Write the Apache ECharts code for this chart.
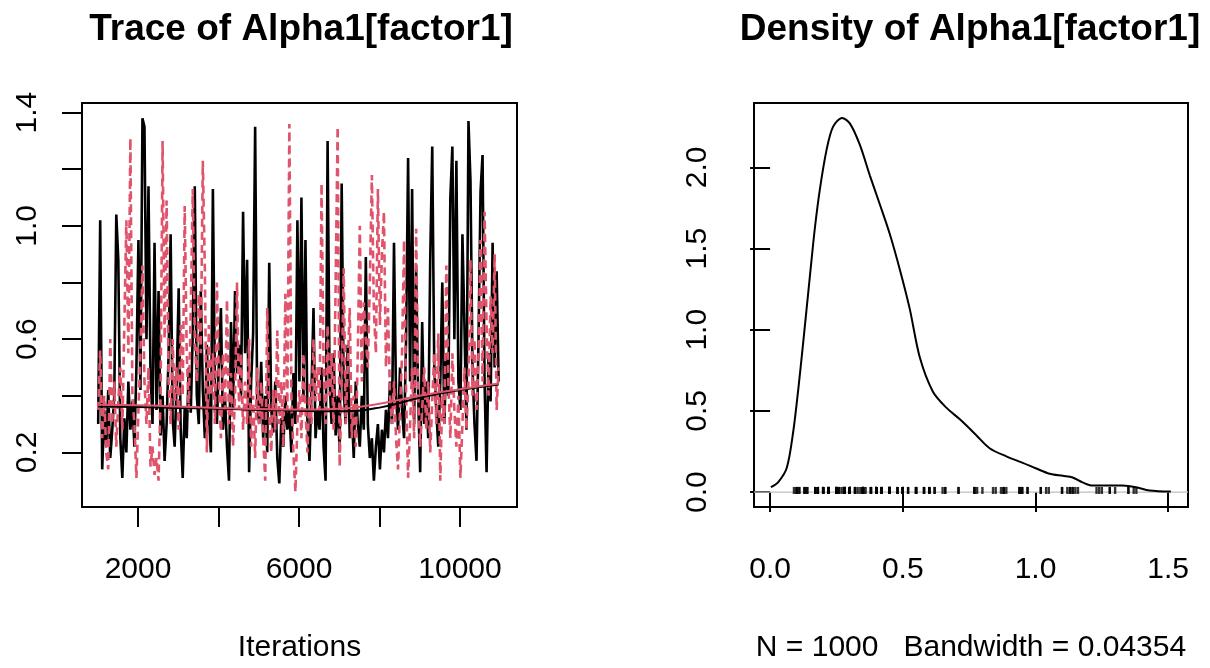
<!DOCTYPE html>
<html>
<head>
<meta charset="utf-8">
<script src="https://cdn.jsdelivr.net/npm/echarts@6/dist/echarts.min.js"></script>
<style>
html,body{margin:0;padding:0;background:#fff;}
#chart{width:1210px;height:668px;}
</style>
</head>
<body>
<div id="chart"></div>
<script>
// ---- data ----
const iterStart = 1010;
const iterStep = 50;

// chain 1 (black, solid)
const chain1 = [
0.30,1.02,0.14,0.35,0.22,0.42,0.18,0.28,0.40,1.04,
0.88,0.25,0.11,0.32,0.20,0.45,0.28,0.38,0.22,0.50,
0.95,0.42,1.38,1.35,0.60,1.14,0.48,0.30,0.94,0.35,
0.77,0.26,0.40,0.17,0.30,0.55,0.97,0.32,0.22,0.45,
0.78,0.28,0.11,0.36,0.25,0.50,0.34,0.62,1.14,0.40,
0.30,0.77,0.42,0.25,0.58,0.33,0.20,1.13,0.45,0.30,
0.52,0.71,0.28,0.40,0.22,0.10,0.66,0.35,0.77,0.48,
0.58,0.40,1.05,0.55,0.88,0.13,0.45,0.62,1.35,0.38,
0.30,0.52,0.25,0.40,0.20,0.87,0.35,0.27,0.45,0.18,
0.09,0.32,0.22,0.40,0.28,0.35,0.20,0.48,0.30,1.02,
0.45,1.10,0.38,0.95,0.30,0.17,0.42,0.71,0.25,0.35,
0.28,0.50,0.22,0.10,1.30,0.45,0.30,0.55,0.26,0.40,
0.20,1.15,0.42,0.30,0.58,0.25,0.35,0.18,0.45,0.30,
0.22,0.40,0.28,0.89,0.30,0.18,0.25,0.10,0.22,0.30,
0.14,0.28,0.20,0.35,0.25,0.45,0.30,0.94,0.40,0.28,
0.50,0.35,0.25,0.60,1.24,0.45,1.13,0.30,0.85,0.40,
0.13,0.66,0.30,0.45,0.25,0.88,1.28,0.50,0.35,0.22,
0.45,0.80,0.30,0.55,0.40,1.10,1.28,0.60,1.23,0.45,
0.35,0.97,0.65,0.28,1.37,1.16,0.50,0.30,0.17,0.60,
1.12,1.25,0.45,0.13,0.55,0.38,0.94,0.50,0.84,0.45
];

// chain 2 (red, dashed)
const chain2 = [
0.35,0.56,0.25,0.40,0.20,0.14,0.60,0.30,0.45,0.22,
0.38,0.50,0.28,0.65,1.02,0.55,1.31,0.40,0.30,0.11,
0.35,0.55,0.86,0.45,0.30,0.50,0.15,0.22,0.12,0.18,
0.10,0.40,1.30,0.60,1.09,0.45,0.30,0.60,0.38,0.50,
0.28,0.65,0.40,1.07,0.55,0.35,0.70,1.13,0.60,0.45,
0.76,0.55,1.23,0.85,0.20,0.65,0.40,0.55,0.30,0.80,
0.45,0.25,0.55,0.35,0.74,0.30,0.48,0.22,0.40,0.80,
0.35,0.55,0.28,0.45,0.30,0.60,0.22,0.40,0.18,0.50,
0.30,0.45,0.25,0.10,0.71,0.35,0.20,0.42,0.28,0.63,
0.30,0.45,0.22,0.76,0.35,1.36,0.40,0.20,0.06,0.30,
0.42,0.25,0.55,0.35,0.20,0.45,0.30,0.60,0.38,0.50,
0.35,1.15,0.50,0.30,0.65,0.40,0.55,0.28,0.80,1.35,
0.15,0.45,0.85,0.30,0.50,0.71,0.25,0.40,0.22,0.55,
1.00,0.45,0.73,0.60,0.50,0.80,1.18,0.70,0.55,1.13,
0.65,0.90,1.05,0.50,0.71,0.40,0.30,0.45,0.25,0.14,
0.35,0.55,0.95,0.40,0.11,0.30,0.50,0.25,0.99,0.40,
0.22,0.35,0.50,0.28,0.45,0.20,0.38,0.55,0.30,0.62,
0.10,0.40,0.30,0.86,0.45,0.25,0.55,0.35,0.22,0.40,
0.11,0.30,0.50,0.28,0.45,0.88,0.40,0.60,0.35,0.55,
0.95,0.45,1.05,0.65,0.40,0.75,0.55,0.90,0.35,0.50
];

// lowess smooth lines
const smoothIter = [1010,2000,3000,4000,5000,6000,7000,8000,9000,10000,10960];
const smooth1 = [0.362,0.360,0.357,0.354,0.350,0.347,0.345,0.358,0.393,0.420,0.440];
const smooth2 = [0.368,0.366,0.362,0.357,0.353,0.351,0.354,0.372,0.400,0.423,0.443];

// density curve
const densX = [0.003,0.030,0.063,0.087,0.106,0.124,0.150,0.169,0.188,0.213,0.237,0.271,0.301,0.338,0.376,0.414,0.451,0.489,0.526,0.564,0.613,0.664,0.714,0.740,0.777,0.827,0.890,0.952,1.003,1.053,1.103,1.140,1.177,1.215,1.266,1.328,1.378,1.430,1.510];
const densY = [0.030,0.060,0.150,0.370,0.630,0.910,1.330,1.630,1.870,2.110,2.250,2.305,2.270,2.140,1.950,1.770,1.590,1.370,1.130,0.830,0.620,0.520,0.450,0.410,0.350,0.270,0.220,0.180,0.145,0.113,0.100,0.090,0.060,0.040,0.040,0.040,0.030,0.010,0.003];

// tick labels
const traceXTicks = [2000,4000,6000,8000,10000];
const traceXLabels = [2000,6000,10000];
const traceYTicks = [0.2,0.4,0.6,0.8,1.0,1.2,1.4];
const traceYLabels = [0.2,0.6,1.0,1.4];
const densXTicks = [0.0,0.5,1.0,1.5];
const densYTicks = [0.0,0.5,1.0,1.5,2.0];

const titles = ['Trace of Alpha1[factor1]','Density of Alpha1[factor1]'];
const xNames = ['Iterations','N = 1000   Bandwidth = 0.04354'];

// ---- build ----
const FONT = 'Liberation Sans, Arial, Helvetica, sans-serif';
const RED = '#DF536B';
const pairs = (xs, ys) => ys.map((v, i) => [xs[i], v]);
const iters = chain1.map((_, i) => iterStart + i * iterStep);

function tickCfg(values){
  return {show:true, inside:false, length:20, customValues:values, lineStyle:{color:'#000', width:2}};
}
function labelCfg(values, margin, rotate, fmt){
  return {show:true, customValues:values, margin:margin, rotate:rotate, fontSize:30, color:'#000', fontFamily:FONT, formatter:fmt};
}
const f1 = v => Number(v).toFixed(1);
const f0 = v => String(Math.round(v));

const chart = echarts.init(document.getElementById('chart'), null, {renderer:'canvas'});
chart.setOption({
  animation:false,
  backgroundColor:'#fff',
  title:[
    {text:titles[0], left:301, top:11, textAlign:'center', padding:0, textStyle:{fontSize:37, fontWeight:'bold', color:'#000', fontFamily:FONT}},
    {text:titles[1], left:970, top:11, textAlign:'center', padding:0, textStyle:{fontSize:37, fontWeight:'bold', color:'#000', fontFamily:FONT}}
  ],
  grid:[
    {left:82, top:103, width:435, height:414, show:true, borderColor:'#000', borderWidth:2, backgroundColor:'transparent', containLabel:false},
    {left:754, top:103, width:434, height:414, show:true, borderColor:'#000', borderWidth:2, backgroundColor:'transparent', containLabel:false}
  ],
  xAxis:[
    {type:'value', gridIndex:0, min:608, max:11416, axisLine:{show:false}, splitLine:{show:false},
     axisTick:tickCfg(traceXTicks), axisLabel:labelCfg(traceXLabels, 48, 0, f0),
     name:xNames[0], nameLocation:'middle', nameGap:126, nameTextStyle:{fontSize:30, color:'#000', fontFamily:FONT}},
    {type:'value', gridIndex:1, min:-0.0606, max:1.5746, axisLine:{show:false}, splitLine:{show:false},
     axisTick:tickCfg(densXTicks), axisLabel:labelCfg(densXTicks, 48, 0, f1),
     name:xNames[1], nameLocation:'middle', nameGap:126, nameTextStyle:{fontSize:30, color:'#000', fontFamily:FONT}}
  ],
  yAxis:[
    {type:'value', gridIndex:0, min:0.007, max:1.434, axisLine:{show:false}, splitLine:{show:false},
     axisTick:tickCfg(traceYTicks), axisLabel:labelCfg(traceYLabels, 39, 90, f1)},
    {type:'value', gridIndex:1, min:-0.092, max:2.397, axisLine:{show:false}, splitLine:{show:false},
     axisTick:tickCfg(densYTicks), axisLabel:labelCfg(densYTicks, 41, 90, f1)}
  ],
  series:[
    {type:'line', xAxisIndex:0, yAxisIndex:0, data:pairs(iters, chain1), showSymbol:false, symbol:'none',
     lineStyle:{color:'#000', width:2.6}, z:2, silent:true},
    {type:'line', xAxisIndex:0, yAxisIndex:0, data:pairs(iters, chain2), showSymbol:false, symbol:'none',
     lineStyle:{color:RED, width:2.6, type:[8,5]}, z:3, silent:true},
    {type:'line', xAxisIndex:0, yAxisIndex:0, data:pairs(smoothIter, smooth1), showSymbol:false, symbol:'none', smooth:true,
     lineStyle:{color:'#000', width:2}, z:4, silent:true},
    {type:'line', xAxisIndex:0, yAxisIndex:0, data:pairs(smoothIter, smooth2), showSymbol:false, symbol:'none', smooth:true,
     lineStyle:{color:RED, width:2}, z:5, silent:true},
    {type:'line', xAxisIndex:1, yAxisIndex:1, data:[[-0.0606,0],[1.5746,0]], showSymbol:false, symbol:'none',
     lineStyle:{color:'#BEBEBE', width:1.2}, z:2, silent:true},
    {type:'line', xAxisIndex:1, yAxisIndex:1, data:pairs(densX, densY), showSymbol:false, symbol:'none', smooth:0.3,
     lineStyle:{color:'#000', width:2}, z:4, silent:true},
    {type:'scatter', xAxisIndex:1, yAxisIndex:1, data:chain1.map(v => [v, 0.01]), symbol:'rect', symbolSize:[2.4,7],
     itemStyle:{color:'#000'}, z:3, silent:true}
  ]
});
</script>
</body>
</html>
